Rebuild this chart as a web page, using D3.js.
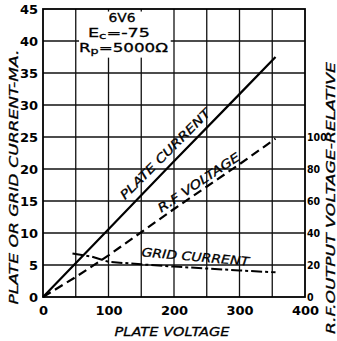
<!DOCTYPE html>
<html>
<head>
<meta charset="utf-8">
<script src="https://cdn.jsdelivr.net/npm/d3@7"></script>
<style>
  body { margin: 0; background: #fff; }
  svg { display: block; }
  text { fill: #000; font-family: "DejaVu Sans", sans-serif; }
</style>
</head>
<body>
<div id="chart"></div>
<script>
// values (6V6)
var xTicks = [0, 100, 200, 300, 400];
var yTicks = [0, 5, 10, 15, 20, 25, 30, 35, 40, 45];
var rightTicks = [0, 20, 40, 60, 80, 100];

var plateVolts = [0, 100, 200, 300, 355];
var plateCurrent = [0, 10.6, 21.2, 31.7, 37.5];

var rfVolts = [0, 50, 100, 200, 300, 355];
var rfVoltage = [0, 12.5, 26, 55, 83, 99];

var gridVolts = [45, 75, 100, 150, 200, 250, 300, 355];
var gridCurrent = [6.8, 6.3, 5.5, 5.1, 4.75, 4.45, 4.15, 3.85];

var titleLines = ['6V6', 'Ec=-75', 'Rp=5000Ω'];

var W = 337, H = 341;
var margin = {top: 9, right: 32, bottom: 44, left: 43};

var svg = d3.select('#chart').append('svg')
    .attr('width', W)
    .attr('height', H);

var x = d3.scaleLinear().domain([0, 400]).range([margin.left, W - margin.right]);
var y = d3.scaleLinear().domain([0, 45]).range([H - margin.bottom, margin.top]);
// right scale: 20 relative units = 5 mA
var yR = d3.scaleLinear().domain([0, 180]).range([H - margin.bottom, margin.top]);

var grid = svg.append('g');
grid.selectAll('.vline')
    .data(d3.range(50, 400, 50))
    .enter().append('line')
    .attr('x1', d => x(d)).attr('x2', d => x(d))
    .attr('y1', y(0)).attr('y2', y(45))
    .attr('stroke', '#111').attr('stroke-width', 1.3);
grid.selectAll('.hline')
    .data(d3.range(5, 45, 5))
    .enter().append('line')
    .attr('x1', x(0)).attr('x2', x(400))
    .attr('y1', d => y(d)).attr('y2', d => y(d))
    .attr('stroke', '#111').attr('stroke-width', 1.3);

// white patch behind the tube data
svg.append('rect')
    .attr('x', x(55)).attr('y', y(44.6))
    .attr('width', x(195) - x(55)).attr('height', y(37.4) - y(44.6))
    .attr('fill', '#fff');

// frame
svg.append('rect')
    .attr('x', x(0)).attr('y', y(45))
    .attr('width', x(400) - x(0)).attr('height', y(0) - y(45))
    .attr('fill', 'none').attr('stroke', '#000').attr('stroke-width', 1.8);

// axes (labels only, the grid does the rest)
var xAxis = svg.append('g')
    .attr('transform', 'translate(0,' + y(0) + ')')
    .call(d3.axisBottom(x).tickValues(xTicks).tickSize(0).tickPadding(9));
var yAxis = svg.append('g')
    .attr('transform', 'translate(' + x(0) + ',0)')
    .call(d3.axisLeft(y).tickValues(yTicks).tickSize(0).tickPadding(5));
var rAxis = svg.append('g')
    .attr('transform', 'translate(' + x(400) + ',0)')
    .call(d3.axisRight(yR).tickValues(rightTicks).tickSize(0).tickPadding(2));
[xAxis, yAxis, rAxis].forEach(a => {
    a.select('.domain').remove();
    a.selectAll('text')
        .style('font-family', '"DejaVu Sans", sans-serif')
        .style('font-weight', 'bold')
        .style('font-size', '13px')
        .attr('fill', '#000');
});
rAxis.selectAll('text')
    .style('font-family', '"DejaVu Sans Condensed", "DejaVu Sans", sans-serif')
    .style('font-size', '10.5px');

// curves
var line = d3.line().x(d => x(d[0])).y(d => d[1]);

svg.append('path')
    .datum(d3.zip(plateVolts, plateCurrent.map(v => y(v))))
    .attr('d', line)
    .attr('fill', 'none').attr('stroke', '#000').attr('stroke-width', 2.2);

svg.append('path')
    .datum(d3.zip(rfVolts, rfVoltage.map(v => yR(v))))
    .attr('d', line)
    .attr('fill', 'none').attr('stroke', '#000').attr('stroke-width', 2.2)
    .attr('stroke-dasharray', '9,5');

svg.append('path')
    .datum(d3.zip(gridVolts, gridCurrent.map(v => y(v))))
    .attr('d', line)
    .attr('fill', 'none').attr('stroke', '#000').attr('stroke-width', 2)
    .attr('stroke-dasharray', '11,3,3,3');

// curve labels
const curveLabel = (txt, cx, cy, angle, len) => {
    svg.append('text')
        .attr('transform', 'translate(' + cx + ',' + cy + ') rotate(' + angle + ')')
        .attr('text-anchor', 'middle')
        .attr('textLength', len)
        .attr('lengthAdjust', 'spacingAndGlyphs')
        .style('font-style', 'italic')
        .style('font-size', '12px')
        .style('stroke', '#000').style('stroke-width', 0.3)
        .text(txt);
};
curveLabel('PLATE CURRENT', 168, 157, -45, 122);
curveLabel('R.F VOLTAGE', 201, 186, -34, 96);
curveLabel('GRID CURRENT', 195, 261, 5, 108);

// tube data block
var tb = svg.append('g')
    .style('font-family', '"DejaVu Sans Condensed", "DejaVu Sans", sans-serif')
    .style('font-size', '12.5px')
    .style('stroke', '#000').style('stroke-width', 0.3);
tb.append('text').attr('x', 122).attr('y', 22).attr('text-anchor', 'middle')
    .attr('textLength', 27).attr('lengthAdjust', 'spacingAndGlyphs')
    .text(titleLines[0]);
var ec = tb.append('text').attr('x', 88).attr('y', 37)
    .attr('textLength', 62).attr('lengthAdjust', 'spacingAndGlyphs');
ec.append('tspan').text('E');
ec.append('tspan').attr('dy', 1.5).style('font-size', '9.5px').text('c');
ec.append('tspan').attr('dy', -1.5).text('=-75');
var rp = tb.append('text').attr('x', 79).attr('y', 52)
    .attr('textLength', 89).attr('lengthAdjust', 'spacingAndGlyphs');
rp.append('tspan').text('R');
rp.append('tspan').attr('dy', 1.5).style('font-size', '9.5px').text('p');
rp.append('tspan').attr('dy', -1.5).text('=5000Ω');

// axis titles
svg.append('text')
    .attr('transform', 'translate(18,177) rotate(-90)')
    .attr('text-anchor', 'middle')
    .attr('textLength', 255).attr('lengthAdjust', 'spacingAndGlyphs')
    .style('font-style', 'italic').style('font-size', '13px')
    .style('stroke', '#000').style('stroke-width', 0.3)
    .text('PLATE OR GRID CURRENT-MA.');
svg.append('text')
    .attr('transform', 'translate(335,198) rotate(-90)')
    .attr('text-anchor', 'middle')
    .attr('textLength', 272).attr('lengthAdjust', 'spacingAndGlyphs')
    .style('font-style', 'italic').style('font-size', '12px')
    .style('stroke', '#000').style('stroke-width', 0.3)
    .text('R.F.OUTPUT VOLTAGE-RELATIVE');
svg.append('text')
    .attr('x', 172).attr('y', 336)
    .attr('text-anchor', 'middle')
    .attr('textLength', 115).attr('lengthAdjust', 'spacingAndGlyphs')
    .style('font-style', 'italic').style('font-size', '13px')
    .style('stroke', '#000').style('stroke-width', 0.3)
    .text('PLATE VOLTAGE');
</script>
</body>
</html>
